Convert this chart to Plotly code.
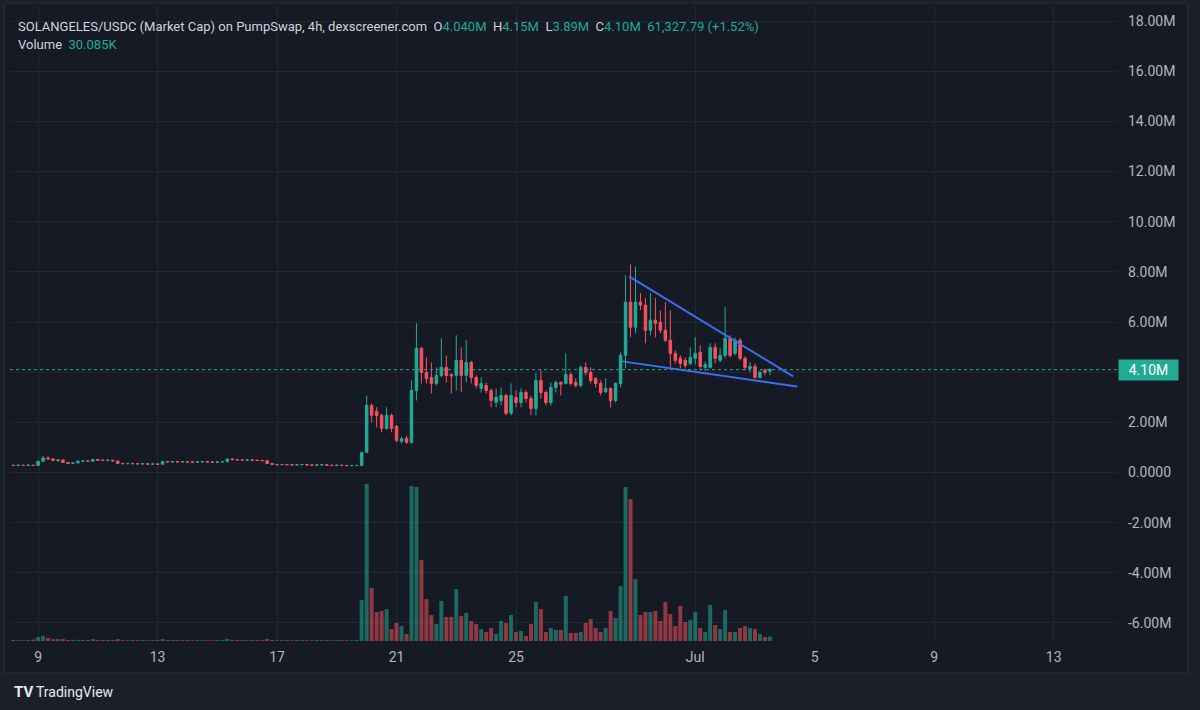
import pandas as pd
import plotly.graph_objects as go

# ---------------- DATA (prices in millions, volume in thousands) ----------------
start_time = "2025-06-08 04:00"
n_bars = 153

opens = [
    0.29,0.28,0.29,0.28,0.29,0.28,0.45,0.58,0.54,0.48,
    0.50,0.40,0.36,0.38,0.45,0.46,0.45,0.52,0.49,0.48,
    0.49,0.46,0.36,0.35,0.36,0.35,0.34,0.35,0.33,0.34,
    0.33,0.44,0.42,0.43,0.42,0.43,0.42,0.41,0.42,0.43,
    0.42,0.41,0.42,0.43,0.54,0.51,0.50,0.49,0.50,0.49,
    0.48,0.47,0.36,0.32,0.31,0.32,0.31,0.30,0.31,0.32,
    0.30,0.29,0.30,0.31,0.29,0.28,0.29,0.28,0.27,0.28,
    0.28,
    0.80,2.67,2.44,2.27,1.76,2.28,1.84,1.24,1.36,1.20,
    3.27,4.95,3.99,3.79,3.55,3.87,4.19,3.90,3.87,4.47,
    3.87,4.39,3.79,3.35,3.47,3.27,2.80,2.87,3.07,2.36,
    2.99,2.79,3.19,2.95,2.55,3.67,3.19,2.79,3.39,3.60,
    3.55,3.91,3.59,3.47,4.19,3.99,3.75,3.55,3.23,3.35,
    2.87,3.55,4.67,6.79,5.79,6.79,6.67,5.67,6.07,5.99,
    5.67,5.27,4.75,4.55,4.47,4.35,4.55,4.79,4.19,4.19,
    4.99,4.47,4.67,5.35,4.75,5.27,4.55,4.15,4.23,3.79,
    4.07,4.04,
]
highs = [
    0.30,0.30,0.30,0.31,0.30,0.46,0.66,0.64,0.56,0.52,
    0.51,0.42,0.40,0.46,0.48,0.48,0.54,0.53,0.51,0.50,
    0.50,0.47,0.38,0.37,0.37,0.37,0.36,0.36,0.35,0.35,
    0.46,0.46,0.44,0.45,0.44,0.44,0.43,0.43,0.44,0.44,
    0.43,0.43,0.44,0.57,0.56,0.53,0.52,0.51,0.52,0.50,
    0.50,0.48,0.37,0.34,0.33,0.33,0.33,0.32,0.33,0.33,
    0.31,0.31,0.32,0.32,0.30,0.30,0.30,0.29,0.29,0.29,
    0.82,
    3.07,2.75,2.60,2.35,2.60,2.35,1.90,1.42,1.45,3.67,
    5.95,5.00,4.59,4.39,4.19,5.35,4.67,3.95,5.47,4.99,
    5.27,4.45,3.87,3.79,3.59,3.35,3.35,3.39,3.15,3.55,
    3.27,3.35,3.27,3.07,3.99,4.07,3.27,3.59,3.67,3.62,
    4.75,3.99,3.75,4.27,4.39,4.19,3.79,3.67,3.75,3.40,
    3.59,4.79,7.86,8.30,8.20,7.15,6.95,7.15,6.95,6.47,
    6.79,6.47,4.87,4.67,4.59,4.99,5.39,5.07,4.43,5.15,
    5.15,4.95,6.59,5.47,5.39,5.35,4.63,4.39,4.35,4.07,
    4.15,4.15,
]
lows = [
    0.27,0.27,0.27,0.27,0.27,0.27,0.44,0.52,0.46,0.42,
    0.38,0.34,0.35,0.37,0.43,0.44,0.44,0.48,0.47,0.46,
    0.45,0.34,0.33,0.33,0.34,0.33,0.33,0.32,0.32,0.32,
    0.32,0.41,0.41,0.41,0.40,0.41,0.40,0.40,0.41,0.41,
    0.40,0.40,0.41,0.42,0.50,0.49,0.48,0.47,0.48,0.47,
    0.46,0.34,0.31,0.30,0.30,0.30,0.29,0.29,0.30,0.29,
    0.28,0.28,0.29,0.28,0.27,0.27,0.27,0.26,0.26,0.26,
    0.27,
    0.78,2.00,1.80,1.60,1.70,1.60,1.20,1.15,1.15,1.15,
    2.87,3.55,3.55,3.15,3.47,3.80,3.59,3.15,3.27,3.20,
    3.60,3.55,3.35,3.19,3.15,2.60,2.60,2.67,2.28,2.28,
    2.60,2.60,2.79,2.28,2.28,2.95,2.67,2.67,3.19,3.07,
    3.50,3.47,3.39,3.39,3.87,3.55,3.39,3.07,3.15,2.59,
    2.79,3.39,4.15,5.39,5.55,6.47,5.15,5.47,5.39,5.55,
    5.19,4.19,4.35,4.15,4.15,4.27,4.30,4.07,4.03,4.15,
    4.35,4.39,4.55,4.59,4.67,4.47,4.07,3.99,3.75,3.75,
    3.89,3.89,
]
closes = [
    0.28,0.29,0.28,0.29,0.28,0.45,0.58,0.54,0.48,0.50,
    0.40,0.36,0.38,0.45,0.46,0.45,0.52,0.49,0.48,0.49,
    0.46,0.36,0.35,0.36,0.35,0.34,0.35,0.33,0.34,0.33,
    0.44,0.42,0.43,0.42,0.43,0.42,0.41,0.42,0.43,0.42,
    0.41,0.42,0.43,0.54,0.51,0.50,0.49,0.50,0.49,0.48,
    0.47,0.36,0.32,0.31,0.32,0.31,0.30,0.31,0.32,0.30,
    0.29,0.30,0.31,0.29,0.28,0.29,0.28,0.27,0.28,0.28,
    0.80,
    2.67,2.28,2.27,1.76,2.28,1.76,1.28,1.34,1.20,3.27,
    4.95,3.99,3.75,3.55,3.87,4.19,3.87,3.85,4.47,3.87,
    4.39,3.79,3.47,3.55,3.27,2.87,3.00,3.07,2.36,3.07,
    2.79,3.19,2.95,2.55,3.67,3.19,2.79,3.39,3.59,3.52,
    3.91,3.55,3.47,4.19,3.99,3.67,3.55,3.19,3.35,2.87,
    3.55,4.67,6.79,5.79,6.79,6.67,5.67,6.07,5.95,5.67,
    5.27,4.75,4.47,4.35,4.27,4.59,4.75,4.23,4.30,4.99,
    4.55,4.67,5.35,4.67,5.27,4.55,4.19,4.23,3.79,3.99,
    3.99,4.10,
]
volumes_k = [
    8,5,5,6,10,27,34,20,13,13,
    13,7,7,8,7,7,13,7,6,7,
    7,13,6,5,6,5,6,5,5,6,
    13,7,6,6,5,6,5,6,5,6,
    5,6,6,13,8,6,5,6,6,5,
    6,13,7,5,6,5,5,6,5,5,
    5,6,5,6,5,5,6,5,5,6,
    275,
    1052,355,194,201,214,80,121,100,47,1039,
    1032,543,281,174,114,268,161,161,348,168,
    188,134,114,80,60,87,47,134,121,174,
    60,67,34,114,261,214,60,87,74,74,
    302,54,54,60,121,147,87,60,87,201,
    154,369,1032,951,415,174,194,194,201,134,
    261,181,100,235,127,141,194,87,60,241,
    107,80,208,60,60,87,100,87,80,47,
    27,30.085,
]

# Drawn trendlines (time, price in M)
upper_line_t = ["2025-06-28 18:48", "2025-07-04 06:38"]
upper_line_p = [7.82, 3.83]
lower_line_t = ["2025-06-28 13:18", "2025-07-04 10:00"]
lower_line_p = [4.43, 3.43]

last_price = 4.10
x_tick_vals = ["2025-06-09", "2025-06-13", "2025-06-17", "2025-06-21", "2025-06-25",
               "2025-07-01", "2025-07-05", "2025-07-09", "2025-07-13"]
x_tick_text = ["9", "13", "17", "21", "25", "Jul", "5", "9", "13"]
# 4.00M label is covered by the last-price badge in the reference
y_tick_vals = [-6, -4, -2, 0, 2, 6, 8, 10, 12, 14, 16, 18]
y_tick_text = ["-6.00M", "-4.00M", "-2.00M", "0.0000", "2.00M", "6.00M",
               "8.00M", "10.00M", "12.00M", "14.00M", "16.00M", "18.00M"]

# ---------------- STYLE ----------------
UP = "#22ab94"
DOWN = "#f7525f"
UP_VOL = "rgba(34,171,148,0.55)"
DOWN_VOL = "rgba(247,82,95,0.55)"
PANEL_BG = "#161a25"
OUTER_BG = "#1c1f2a"
GRID = "#222631"
TEXT = "#d1d4dc"
AXIS_TEXT = "#b2b5be"
FONT = "Roboto"

times = pd.date_range(start_time, periods=n_bars, freq="4h")
vol_colors = [UP_VOL if c >= o else DOWN_VOL for o, c in zip(opens, closes)]

fig = go.Figure()

fig.add_trace(go.Bar(
    x=times, y=volumes_k, marker=dict(color=vol_colors, line=dict(width=0)),
    width=4 * 3600 * 1000 * 0.8, yaxis="y2", hoverinfo="skip", showlegend=False,
))

fig.add_trace(go.Candlestick(
    x=times, open=opens, high=highs, low=lows, close=closes,
    increasing=dict(line=dict(color=UP, width=1), fillcolor=UP),
    decreasing=dict(line=dict(color=DOWN, width=1), fillcolor=DOWN),
    whiskerwidth=0, hoverinfo="skip", showlegend=False,
))

for tt, pp in ((upper_line_t, upper_line_p), (lower_line_t, lower_line_p)):
    fig.add_trace(go.Scatter(
        x=tt, y=pp, mode="lines", line=dict(color="#3d6ef2", width=2),
        hoverinfo="skip", showlegend=False,
    ))

W, H = 1200, 710
L, R, T, B = 10, 83, 5, 69
pw, ph = W - L - R, H - T - B

def px_x(p):
    return (p - L) / pw

def px_y(p):
    return 1 - (p - T) / ph

shapes = [
    dict(type="rect", xref="paper", yref="paper",
         x0=px_x(4), x1=px_x(1188), y0=px_y(673), y1=px_y(3),
         fillcolor=PANEL_BG, line=dict(color="#2a2e39", width=1), layer="below"),
    # gridline at 4M (its label is hidden behind the badge)
    dict(type="line", xref="paper", yref="y", x0=0, x1=1, y0=4, y1=4,
         line=dict(color=GRID, width=1), layer="below"),
    dict(type="line", xref="paper", yref="y", x0=0, x1=1, y0=last_price, y1=last_price,
         line=dict(color=UP, width=1, dash="dot")),
]

header = (f"<span style='color:{TEXT}'>SOLANGELES/USDC (Market Cap) on PumpSwap, 4h, dexscreener.com</span>"
          f"  <span style='color:{TEXT}'>O</span><span style='color:{UP}'>4.040M</span>"
          f"  <span style='color:{TEXT}'>H</span><span style='color:{UP}'>4.15M</span>"
          f"  <span style='color:{TEXT}'>L</span><span style='color:{UP}'>3.89M</span>"
          f"  <span style='color:{TEXT}'>C</span><span style='color:{UP}'>4.10M</span>"
          f"  <span style='color:{UP}'>61,327.79 (+1.52%)</span>")
vol_text = f"<span style='color:{TEXT}'>Volume</span>  <span style='color:{UP}'>30.085K</span>"

annotations = [
    dict(xref="paper", yref="paper", x=px_x(16), y=px_y(27), xanchor="left", yanchor="middle",
         text=header, showarrow=False, font=dict(family=FONT, size=13, color=TEXT)),
    dict(xref="paper", yref="paper", x=px_x(16), y=px_y(45), xanchor="left", yanchor="middle",
         text=vol_text, showarrow=False, font=dict(family=FONT, size=13, color=TEXT)),
    dict(xref="paper", yref="y", x=1, y=last_price, xanchor="left", yanchor="middle",
         xshift=1, text="4.10M", showarrow=False, bgcolor=UP, borderpad=2, width=55,
         height=16, align="center",
         font=dict(family=FONT, size=14, color="#ffffff")),
    dict(xref="paper", yref="paper", x=px_x(12), y=px_y(692), xanchor="left", yanchor="middle",
         text="<b>TV</b>", showarrow=False, font=dict(family=FONT, size=15, color="#e8eaf0")),
    dict(xref="paper", yref="paper", x=px_x(34), y=px_y(692), xanchor="left", yanchor="middle",
         text="TradingView", showarrow=False, font=dict(family=FONT, size=14, color="#e8eaf0")),
]

fig.update_layout(
    width=W, height=H,
    margin=dict(l=L, r=R, t=T, b=B, pad=0),
    paper_bgcolor=OUTER_BG, plot_bgcolor=PANEL_BG,
    showlegend=False, hovermode=False,
    boxgap=0.28,
    font=dict(family=FONT, size=14, color=AXIS_TEXT),
    xaxis=dict(
        type="date", range=["2025-06-08 01:25", "2025-07-15 02:53"],
        tickmode="array", tickvals=x_tick_vals, ticktext=x_tick_text,
        showgrid=True, gridcolor=GRID, gridwidth=1, zeroline=False,
        showline=False, ticks="", ticklabelstandoff=6,
        tickfont=dict(family=FONT, size=14, color=AXIS_TEXT),
        rangeslider=dict(visible=False), fixedrange=True,
    ),
    yaxis=dict(
        side="right", range=[-6.72, 18.64],
        tickmode="array", tickvals=y_tick_vals, ticktext=y_tick_text,
        showgrid=True, gridcolor=GRID, gridwidth=1, zeroline=False,
        showline=False, ticks="", ticklabelstandoff=10,
        tickfont=dict(family=FONT, size=14, color=AXIS_TEXT), fixedrange=True,
    ),
    yaxis2=dict(
        overlaying="y", range=[0, 4261], visible=False, fixedrange=True,
    ),
    shapes=shapes, annotations=annotations,
)

fig.write_html("out.html", config={"displayModeBar": False})
